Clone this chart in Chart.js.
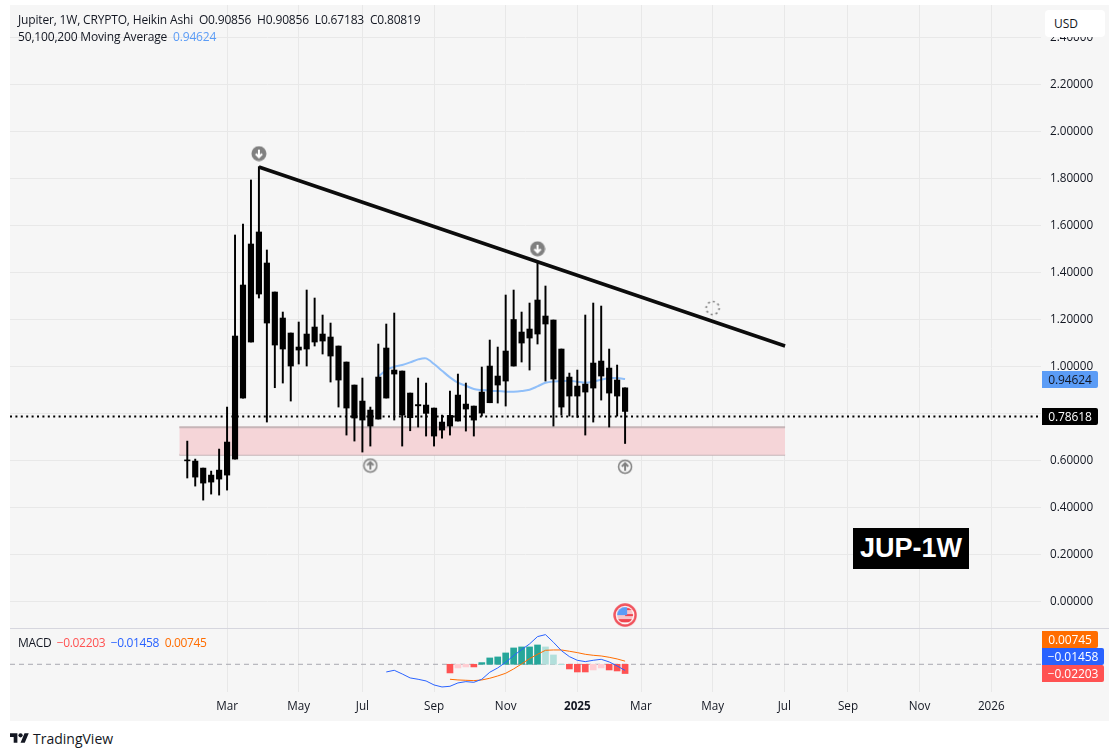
<!DOCTYPE html>
<html>
<head>
<meta charset="utf-8">
<title>JUP-1W</title>
<script src="https://cdn.jsdelivr.net/npm/chart.js@4/dist/chart.umd.min.js"></script>
<style>
  html, body { margin: 0; padding: 0; background: #fff; }
  body { width: 1119px; height: 756px; position: relative; overflow: hidden; font-family: "Open Sans", sans-serif; font-size: 12px; color: #131722; }
  #panel { position: absolute; left: 10px; top: 5px; width: 1099px; height: 716px; background: #f6f6f6; }
  #chart { position: absolute; left: 10px; top: 5px; }
  .abs { position: absolute; white-space: pre; line-height: 16px; letter-spacing: -0.17px; }
  .tag { position: absolute; left: 1042px; width: 56px; height: 17px; line-height: 17px; text-align: center; color: #fff; border-radius: 0 2px 2px 0; letter-spacing: -0.1px; }
  .tag.wide { width: 62px; }
  #usd { position: absolute; left: 1045px; top: 10px; width: 60px; height: 27px; background: #fff; border-radius: 4px; line-height: 27px; padding-left: 9px; box-sizing: border-box; }
  #sep { position: absolute; left: 10px; top: 628px; width: 1099px; height: 1px; background: #d6d6de; }
  #jup { position: absolute; left: 853px; top: 528px; width: 116px; height: 41px; background: #000; color: #fff; font: bold 27px/41px "Liberation Sans", sans-serif; text-align: center; }
  #brand { position: absolute; left: 10px; top: 730px; height: 16px; display: flex; align-items: center; font-size: 14px; }
  #brand svg { margin-right: 4px; }
</style>
</head>
<body>
<div id="panel"></div>
<canvas id="chart" width="1099" height="716"></canvas>
<div id="sep"></div>
<div class="abs" style="left:18px;top:12px">Jupiter, 1W, CRYPTO, Heikin Ashi  O0.90856  H0.90856  L0.67183  C0.80819</div>
<div class="abs" style="left:18px;top:29px">50,100,200 Moving Average  <span style="color:#5b9cf6">0.94624</span></div>
<div class="abs" style="left:18px;top:635px;letter-spacing:-0.35px">MACD  <span style="color:#ff5252">−0.02203</span>  <span style="color:#2962ff">−0.01458</span>  <span style="color:#ff6d00">0.00745</span></div>
<div id="usd">USD</div>
<div class="tag" style="top:371px;background:#5b9cf6;color:#131722">0.94624</div>
<div class="tag" style="top:408px;background:#000">0.78618</div>
<div class="tag" style="top:631px;background:#ff6d00">0.00745</div>
<div class="tag wide" style="top:648px;background:#2962ff">−0.01458</div>
<div class="tag wide" style="top:665px;background:#ff5252">−0.02203</div>
<div id="jup">JUP-1W</div>
<div id="brand">
  <svg width="19" height="15" viewBox="0 0 36 28"><path fill="#131722" d="M14 22H7V11H0V4h14v18zM28 22h-8l7.5-18h8L28 22z"/><circle fill="#131722" cx="20" cy="8" r="4"/></svg>TradingView
</div>

<script>
  // weekly Heikin Ashi candles, x = week number from the first candle
  const opens = [0.602,0.597,0.5672,0.5374,0.5204,0.5374,0.6055,0.8651,1.1034,1.5715,1.4395,1.3161,1.2055,1.1417,1.0693,1.0736,1.1034,1.1076,1.1247,1.0864,1.0183,0.9204,0.8523,0.814,0.7757,0.8651,0.9842,0.98,0.8863,0.8374,0.8353,0.8225,0.763,0.7459,0.7672,0.8183,0.831,0.8012,0.8452,0.9204,0.9374,1.0012,1.0991,1.1204,1.1374,1.18,1.197,1.0736,0.9544,0.9161,0.8906,0.9076,0.9587,0.9927,0.9417,0.90856];
  const highs = [0.682,0.6055,0.5672,0.5544,0.6481,0.8268,1.5587,1.6055,1.7927,1.8495,1.4949,1.3161,1.231,1.1417,1.1885,1.3247,1.2906,1.2183,1.1842,1.0864,1.0183,0.9204,0.9502,0.8268,1.0949,1.18,1.2268,0.98,0.8863,0.9502,0.9289,0.8225,0.7927,0.8948,0.9672,0.9289,0.831,0.997,1.1119,1.0821,1.3034,1.3246,1.231,1.2693,1.4438,1.3417,1.197,1.0736,0.9714,0.9842,1.2183,1.2693,1.2565,1.0736,1.0055,0.90856];
  const lows = [0.525,0.4906,0.431,0.4566,0.4523,0.4736,0.6055,0.8651,1.1034,1.2906,0.763,0.9091,0.9289,0.8523,1.0098,1.0013,1.0864,1.0523,0.9332,0.8268,0.7076,0.6821,0.6353,0.6608,0.7757,0.8651,0.7715,0.6608,0.726,0.7417,0.7034,0.6608,0.6949,0.7076,0.7672,0.7246,0.7034,0.7885,0.8452,0.8438,0.831,1.0012,1.0183,0.9842,1.0949,0.9374,0.7459,0.7927,0.7885,0.7828,0.7076,0.7629,0.8565,0.7417,0.7885,0.67183];
  const closes = [0.598,0.5289,0.5034,0.5077,0.5587,0.6779,1.1289,1.3459,1.5204,1.3076,1.1842,1.0906,1.0736,1.0013,1.0821,1.1374,1.1672,1.1374,1.0438,0.9417,0.8226,0.78,0.7715,0.7459,0.9545,1.0779,0.9672,0.7927,0.7814,0.832,0.8,0.7034,0.7289,0.7913,0.8778,0.8395,0.7714,0.8906,1.0012,0.9587,1.0651,1.1992,1.1459,1.1587,1.2821,1.214,0.9459,0.8268,0.8736,0.8736,0.9246,1.014,1.0225,0.8863,0.8736,0.80819];

  const maStart = 24;
  const maValues = [0.9559,0.9843,0.9984,1.0055,1.0168,1.0296,1.0338,1.0097,0.9814,0.953,0.9303,0.9175,0.9034,0.8991,0.8963,0.8949,0.892,0.892,0.8949,0.9005,0.9147,0.9303,0.936,0.9374,0.9388,0.9346,0.9303,0.9346,0.9431,0.9502,0.9502,0.94624];

  const lastPrice = 0.78618;
  const trendX = [9, 75.1];
  const trendY = [1.848, 1.0864];
  const zoneX = [-1, 75.1];
  const zoneTop = 0.7404;
  const zoneBottom = 0.6238;
  const topMarkers = [{ x: 9, y: 1.905 }, { x: 44, y: 1.5 }];
  const bottomMarkers = [{ x: 23, y: 0.578 }, { x: 55, y: 0.573 }];
  const pendingMarker = [{ x: 66, y: 1.248 }];
  const eventMarker = [{ x: 55, y: -0.058 }];

  // MACD pane
  const histStart = 33;
  const histValues = [-0.0206,-0.0087,-0.0063,-0.0063,0.004,0.0151,0.0175,0.027,0.0389,0.0413,0.0413,0.046,0.0413,0.0222,-0.001,-0.0111,-0.0183,-0.0183,-0.0135,-0.0087,-0.0135,-0.0159,-0.02203];
  const histColors = ["#ff5252","#ffcdd2","#ffcdd2","#ff5252","#26a69a","#26a69a","#26a69a","#26a69a","#26a69a","#26a69a","#26a69a","#26a69a","#b2dfdb","#b2dfdb","#b2dfdb","#ff5252","#ff5252","#ff5252","#ffcdd2","#ffcdd2","#ff5252","#ff5252","#ff5252"];
  const macdStart = 25;
  const macdValues = [-0.0183,-0.0143,-0.023,-0.0325,-0.0357,-0.0397,-0.0492,-0.054,-0.0524,-0.0444,-0.0413,-0.0429,-0.0357,-0.019,-0.0087,0.0048,0.0206,0.0349,0.0484,0.0659,0.0706,0.0524,0.0325,0.0183,0.0095,0.0063,0.0095,0.0119,0.0056,-0.004,-0.01458];
  const signalStart = 33;
  const signalValues = [-0.0357,-0.0373,-0.0381,-0.0389,-0.0373,-0.0333,-0.0278,-0.0214,-0.0111,0.0008,0.0135,0.0238,0.0333,0.0341,0.0341,0.031,0.0278,0.0238,0.0214,0.0198,0.0167,0.0127,0.00745];

  // axes
  const priceTicks = [0,0.2,0.4,0.6,0.8,1,1.2,1.4,1.6,1.8,2,2.2,2.4];
  const monthTicks = [5,14,22,31,40,49,57,66,75,83,92,101];
  const monthLabels = ["Mar","May","Jul","Sep","Nov","2025","Mar","May","Jul","Sep","Nov","2026"];
  const X_MIN = -22.27, X_MAX = 107.25;

  const ink = "#000000";
  const FONT = "'Open Sans', sans-serif";

  function series(start, values) {
    return values.map((y, i) => ({ x: start + i, y: y }));
  }

  // the labels may hang over the plot edge, keep the plot area the full size
  function noPadding(s) {
    s.paddingLeft = s.paddingRight = s.paddingTop = s.paddingBottom = 0;
  }

  // small icons used as point styles
  function icon(size, draw) {
    const c = document.createElement("canvas");
    c.width = c.height = size;
    const g = c.getContext("2d");
    draw(g, size / 2);
    return c;
  }
  function arrow(g, m, dir, color) {
    g.strokeStyle = color;
    g.lineWidth = 2;
    g.beginPath();
    g.moveTo(m, m - 4 * dir);
    g.lineTo(m, m + 3.5 * dir);
    g.moveTo(m - 3.2, m + 0.3 * dir);
    g.lineTo(m, m + 3.5 * dir);
    g.lineTo(m + 3.2, m + 0.3 * dir);
    g.stroke();
  }
  const downIcon = icon(16, (g, m) => {
    g.fillStyle = "#808080";
    g.beginPath(); g.arc(m, m, 7.5, 0, Math.PI * 2); g.fill();
    arrow(g, m, 1, "#fff");
  });
  const upIcon = icon(16, (g, m) => {
    g.strokeStyle = "#808080";
    g.lineWidth = 1.5;
    g.beginPath(); g.arc(m, m, 6.5, 0, Math.PI * 2); g.stroke();
    arrow(g, m, -1, "#808080");
  });
  const spinIcon = icon(18, (g, m) => {
    g.strokeStyle = "#808080";
    g.lineWidth = 1.6;
    g.setLineDash([2, 3]);
    g.beginPath(); g.arc(m, m, 6.5, 0, Math.PI * 2); g.stroke();
  });
  const flagIcon = icon(24, (g, m) => {
    g.fillStyle = "#fff";
    g.beginPath(); g.arc(m, m, 10, 0, Math.PI * 2); g.fill();
    g.save();
    g.beginPath(); g.arc(m, m, 8, 0, Math.PI * 2); g.clip();
    g.fillStyle = "#f7c4c8";
    g.fillRect(0, m - 8, 24, 16);
    g.fillStyle = "#f0454f";
    g.fillRect(m, m - 7, 10, 2); g.fillRect(0, m + 4, 24, 3); g.fillRect(m, m - 1, 10, 2);
    g.fillStyle = "#5b9cf6";
    g.fillRect(m - 8, m - 8, 10, 8);
    g.restore();
    g.strokeStyle = "#f0505a";
    g.lineWidth = 2.4;
    g.beginPath(); g.arc(m, m, 10.5, 0, Math.PI * 2); g.stroke();
  });

  function flatLine(y, color, width, dash, order, fill) {
    return {
      type: "line", yAxisID: "y", order,
      data: [{ x: zoneX[0], y }, { x: zoneX[1], y }],
      borderColor: color, borderWidth: width, borderDash: dash || [],
      pointRadius: 0, fill: fill || false, backgroundColor: "#f5d5d8"
    };
  }
  function marks(data, style, radius) {
    return {
      type: "scatter", yAxisID: "y", order: 0, data,
      pointStyle: style, pointRadius: radius, showLine: false
    };
  }

  new Chart(document.getElementById("chart"), {
    type: "bar",
    data: {
      datasets: [
        // price pane
        flatLine(zoneTop, "#c6b5b7", 2, null, 9, "+1"),
        flatLine(zoneBottom, "#c6b5b7", 2, null, 9),
        {
          type: "line", yAxisID: "y", order: 7, data: series(maStart, maValues),
          borderColor: "#90bff9", borderWidth: 2, pointRadius: 0, tension: 0.3
        },
        {
          type: "bar", yAxisID: "y", order: 5, grouped: false, barThickness: 1.3,
          data: highs.map((h, i) => ({ x: i, y: [lows[i], h] })), backgroundColor: ink
        },
        {
          type: "bar", yAxisID: "y", order: 4, grouped: false, barThickness: 5.5,
          data: opens.map((o, i) => ({ x: i, y: [o, closes[i]] })), backgroundColor: ink
        },
        {
          type: "line", yAxisID: "y", order: 2,
          data: [{ x: X_MIN, y: lastPrice }, { x: X_MAX, y: lastPrice }],
          borderColor: ink, borderWidth: 2, borderDash: [2, 3.4], pointRadius: 0
        },
        {
          type: "line", yAxisID: "y", order: 1,
          data: trendX.map((x, i) => ({ x, y: trendY[i] })),
          borderColor: "#0c0c0c", borderWidth: 3.5, pointRadius: 0
        },
        marks(topMarkers, downIcon, 8),
        marks(bottomMarkers, upIcon, 8),
        marks(pendingMarker, spinIcon, 9),
        marks(eventMarker, flagIcon, 12),
        // MACD pane
        {
          type: "line", yAxisID: "macd", order: 8,
          data: [{ x: X_MIN, y: 0 }, { x: X_MAX, y: 0 }],
          borderColor: "#a9a9b0", borderWidth: 1, borderDash: [5, 4], pointRadius: 0
        },
        {
          type: "bar", yAxisID: "macd", order: 6, grouped: false, barThickness: 6,
          data: series(histStart, histValues), backgroundColor: histColors
        },
        {
          type: "line", yAxisID: "macd", order: 3, data: series(macdStart, macdValues),
          borderColor: "#2962ff", borderWidth: 1, pointRadius: 0
        },
        {
          type: "line", yAxisID: "macd", order: 3, data: series(signalStart, signalValues),
          borderColor: "#ff6d00", borderWidth: 1, pointRadius: 0
        }
      ]
    },
    options: {
      responsive: false,
      animation: false,
      events: [],
      layout: { padding: 0, autoPadding: false },
      plugins: { legend: { display: false }, tooltip: { enabled: false } },
      scales: {
        x: {
          type: "linear", min: X_MIN, max: X_MAX, offset: false,
          afterBuildTicks: s => { s.ticks = monthTicks.map(v => ({ value: v })); },
          afterFit: s => { s.height = 29; noPadding(s); },
          border: { display: false },
          grid: { color: "#e8e8e8", offset: false, drawTicks: false },
          ticks: {
            autoSkip: false, maxRotation: 0, padding: 8, color: "#131722",
            font: c => ({ family: FONT, size: 11.7, weight: c.tick && c.tick.value === 49 ? "bold" : "normal" }),
            callback: v => monthLabels[monthTicks.indexOf(v)]
          }
        },
        y: {
          type: "linear", position: "right", stack: "panes", stackWeight: 623,
          min: -0.113, max: 2.537,
          afterBuildTicks: s => { s.ticks = priceTicks.map(v => ({ value: v })); },
          afterFit: s => { s.width = 68; noPadding(s); },
          border: { display: false },
          grid: { color: "#e8e8e8", drawTicks: false },
          ticks: {
            autoSkip: false, padding: 9, color: "#131722",
            font: { family: FONT, size: 11.7 },
            callback: v => v.toFixed(5)
          }
        },
        macd: {
          type: "linear", position: "right", stack: "panes", stackWeight: 64,
          min: -0.066, max: 0.0864,
          afterBuildTicks: s => { s.ticks = []; },
          afterFit: s => { s.width = 68; noPadding(s); },
          border: { display: false },
          grid: { display: false },
          ticks: { display: false }
        }
      }
    }
  });
</script>
</body>
</html>
